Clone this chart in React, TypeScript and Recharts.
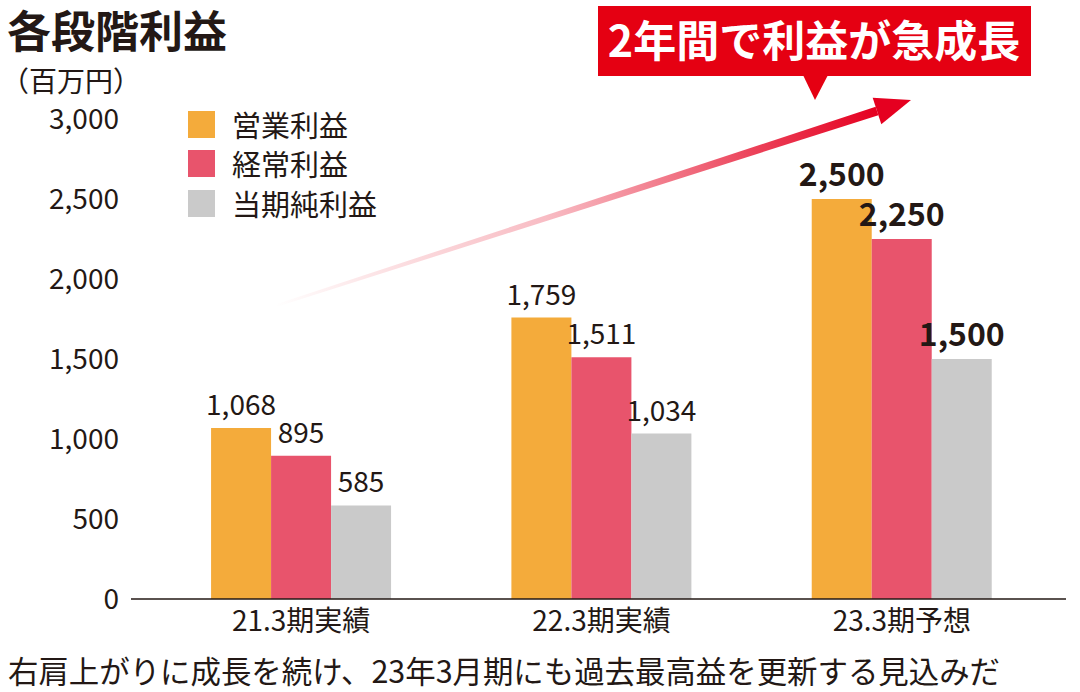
import React from 'react';
import { BarChart, Bar, XAxis, YAxis, LabelList } from 'recharts';

const categories = ['21.3期実績', '22.3期実績', '23.3期予想'];
const operatingProfit = [1068, 1759, 2500];
const ordinaryProfit = [895, 1511, 2250];
const netProfit = [585, 1034, 1500];
const yTicks = [0, 500, 1000, 1500, 2000, 2500, 3000];
const seriesNames = ['営業利益', '経常利益', '当期純利益'];

const title = '各段階利益';
const unitLabel = '（百万円）';
const bannerText = '2年間で利益が急成長';
const footerText = '右肩上がりに成長を続け、23年3月期にも過去最高益を更新する見込みだ';

const COLORS = ['#F4AB3B', '#E8546C', '#CACACA'];
const TEXT = '#231815';
const RED = '#E50012';
const FONT = '"Noto Sans CJK JP", "Noto Sans", sans-serif';

const data = categories.map((c, i) => ({
  name: c,
  op: operatingProfit[i],
  ord: ordinaryProfit[i],
  net: netProfit[i],
}));

const fmt = (v: number) => v.toLocaleString('en-US');

const renderLabel = (props: any) => {
  const { x, y, width, value, index } = props;
  const bold = index === 2;
  return (
    <text
      x={Number(x) + Number(width) / 2}
      y={Number(y) - 13}
      textAnchor="middle"
      fontFamily={FONT}
      fontSize={bold ? 32 : 28}
      fontWeight={bold ? 700 : 400}
      fill={TEXT}
    >
      {fmt(Number(value))}
    </text>
  );
};

function LegendBox() {
  return (
    <div style={{ position: 'absolute', left: 188, top: 104.5, fontFamily: FONT }}>
      {seriesNames.map((n, i) => (
        <div key={n} style={{ display: 'flex', alignItems: 'center', height: 39.5 }}>
          <div style={{ width: 27, height: 27, background: COLORS[i], marginRight: 17 }} />
          <span style={{ fontSize: 29, color: TEXT, lineHeight: '27px' }}>{n}</span>
        </div>
      ))}
    </div>
  );
}

function Arrow() {
  const sx = 275, sy = 306;
  const ex = 877, ey = 111;
  const tipX = 911, tipY = 100;
  const dx = ex - sx, dy = ey - sy;
  const len = Math.sqrt(dx * dx + dy * dy);
  const nx = -dy / len, ny = dx / len;
  const hw = 4.5;
  const hh = 14;
  const shaft = [
    [sx + nx * hw * 0.3, sy + ny * hw * 0.3],
    [ex + nx * hw, ey + ny * hw],
    [ex - nx * hw, ey - ny * hw],
    [sx - nx * hw * 0.3, sy - ny * hw * 0.3],
  ];
  const head = [
    [tipX, tipY],
    [ex + nx * hh, ey + ny * hh],
    [ex - nx * hh, ey - ny * hh],
  ];
  const pts = (a: number[][]) => a.map((p) => p.join(',')).join(' ');
  return (
    <g>
      <defs>
        <linearGradient id="arrowGrad" gradientUnits="userSpaceOnUse" x1={sx} y1={sy} x2={ex} y2={ey}>
          <stop offset="0" stopColor={RED} stopOpacity={0} />
          <stop offset="0.45" stopColor="#E8203A" stopOpacity={0.3} />
          <stop offset="0.8" stopColor="#E50020" stopOpacity={0.75} />
          <stop offset="1" stopColor="#E50020" stopOpacity={1} />
        </linearGradient>
      </defs>
      <polygon points={pts(shaft)} fill="url(#arrowGrad)" />
      <polygon points={pts(head)} fill="#E50020" />
    </g>
  );
}

export default function App() {
  return (
    <div style={{ position: 'absolute', left: 0, top: 0, width: 1080, height: 692, background: '#fff' }}>
      <BarChart
        width={1080}
        height={692}
        data={data}
        margin={{ top: 119, right: 14, bottom: 63, left: 0 }}
        barCategoryGap="20%"
        barGap={0}
      >
        <XAxis
          dataKey="name"
          padding={{ left: 20, right: 14 }}
          tickLine={false}
          axisLine={{ stroke: TEXT, strokeWidth: 1.5 }}
          tickMargin={6}
          tick={{ fill: TEXT, fontSize: 28, fontFamily: FONT }}
          height={30}
        />
        <YAxis
          width={131}
          domain={[0, 3000]}
          ticks={yTicks}
          axisLine={false}
          tickLine={false}
          tickMargin={6}
          tickFormatter={fmt}
          tick={{ fill: TEXT, fontSize: 28, fontFamily: FONT }}
        />
        <Bar dataKey="op" name={seriesNames[0]} fill={COLORS[0]} isAnimationActive={false}>
          <LabelList dataKey="op" content={renderLabel} />
        </Bar>
        <Bar dataKey="ord" name={seriesNames[1]} fill={COLORS[1]} isAnimationActive={false}>
          <LabelList dataKey="ord" content={renderLabel} />
        </Bar>
        <Bar dataKey="net" name={seriesNames[2]} fill={COLORS[2]} isAnimationActive={false}>
          <LabelList dataKey="net" content={renderLabel} />
        </Bar>
      </BarChart>
      <LegendBox />
      <svg
        width={1080}
        height={692}
        style={{ position: 'absolute', left: 0, top: 0, pointerEvents: 'none' }}
      >
        <text x={7} y={48} fontFamily={FONT} fontSize={44} fontWeight={700} fill={TEXT}>
          {title}
        </text>
        <text x={1} y={92} fontFamily={FONT} fontSize={28} fill={TEXT}>
          {unitLabel}
        </text>
        <Arrow />
        <rect x={598} y={6} width={433} height={70} fill={RED} />
        <polygon points="803,75 828,75 815,100" fill={RED} />
        <text x={814} y={57} textAnchor="middle" fontFamily={FONT} fontSize={43} fontWeight={700} fill="#fff">
          {bannerText}
        </text>
        <text
          x={8}
          y={683}
          fontFamily={FONT}
          fontSize={31}
          fill={TEXT}
          textLength={992}
          lengthAdjust="spacingAndGlyphs"
        >
          {footerText}
        </text>
      </svg>
    </div>
  );
}
